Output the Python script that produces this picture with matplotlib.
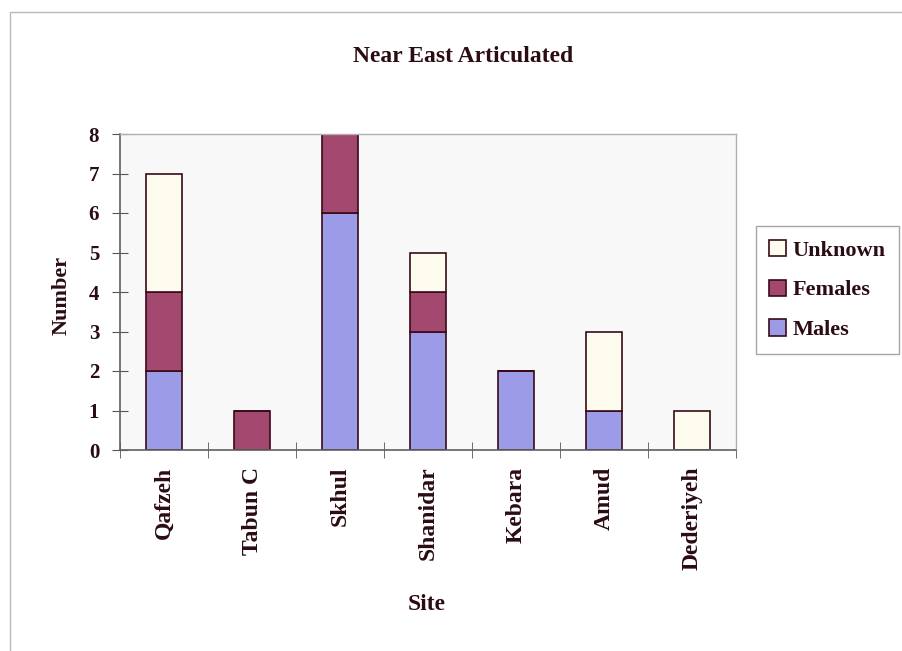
import matplotlib
matplotlib.use("Agg")
import matplotlib.pyplot as plt
from matplotlib.patches import Rectangle
import numpy as np

sites = ["Qafzeh", "Tabun C", "Skhul", "Shanidar", "Kebara", "Amud", "Dederiyeh"]
males = [2, 0, 6, 3, 2, 1, 0]
females = [2, 1, 2, 1, 0, 0, 0]
unknown = [3, 0, 0, 1, 0, 2, 1]
yticks = [0, 1, 2, 3, 4, 5, 6, 7, 8]

plt.rcParams['font.family'] = ['Liberation Serif', 'DejaVu Serif']
plt.rcParams['font.weight'] = 'bold'
tc = '#2a0c12'

fig = plt.figure(figsize=(9.02, 6.51), dpi=100)
fig.patch.set_facecolor('white')
# outer frame
fig.add_artist(Rectangle((10/902, -0.01), 1.0, 1 - 12/651 + 0.01, transform=fig.transFigure,
                         fill=False, edgecolor='#b8b8b8', linewidth=1.0))

ax = fig.add_axes([120/902, 1 - 450/651, 616/902, 316/651])
ax.set_facecolor('#f8f8f8')

x = np.arange(len(sites))
w = 0.41
ec = '#3a0a18'
males = np.array(males); females = np.array(females); unknown = np.array(unknown)
ax.bar(x, males, w, color='#9b9be8', edgecolor=ec, linewidth=1.2, label='Males')
ax.bar(x, females, w, bottom=males, color='#a3486e', edgecolor=ec, linewidth=1.2, label='Females')
ax.bar(x, unknown, w, bottom=males + females, color='#fefcee', edgecolor=ec, linewidth=1.2, label='Unknown')

ax.set_xlim(-0.5, len(sites) - 0.5)
ax.set_ylim(0, 8)
ax.set_yticks(yticks)
ax.set_yticklabels([str(v) for v in yticks], fontsize=15, fontweight='bold', color=tc)
ax.set_xticks(x)
ax.set_xticklabels(sites, rotation=90, fontsize=17, fontweight='bold', color=tc)
ax.tick_params(axis='x', which='major', length=0, pad=12)
ax.set_xticks(np.arange(-0.5, len(sites)), minor=True)
ax.tick_params(axis='x', which='minor', direction='inout', length=12, color='#555555')
ax.tick_params(axis='y', direction='inout', length=12, color='#555555', pad=9)

for s in ['top', 'right']:
    ax.spines[s].set_color('#b0b0b0')
    ax.spines[s].set_linewidth(1.0)
for s in ['left', 'bottom']:
    ax.spines[s].set_color('#606060')
    ax.spines[s].set_linewidth(1.2)

fig.text(463/902, 1 - 57/651, "Near East Articulated", ha='center', va='center',
         fontsize=17, fontweight='bold', color=tc)
fig.text(62/902, 1 - 295/651, "Number", ha='center', va='center', rotation=90,
         fontsize=16, fontweight='bold', color=tc)
fig.text(427/902, 1 - 605/651, "Site", ha='center', va='center',
         fontsize=17, fontweight='bold', color=tc)

handles, labels = ax.get_legend_handles_labels()
leg = fig.legend(handles[::-1], labels[::-1], loc='center left',
                 bbox_to_anchor=(756/902, 1 - 290/651), frameon=True, fancybox=False,
                 prop={'family': 'Liberation Serif', 'weight': 'bold', 'size': 16},
                 handlelength=0.75, handleheight=0.75, handletextpad=0.3,
                 labelspacing=0.85, borderpad=0.6, borderaxespad=0)
leg.get_frame().set_edgecolor('#909090')
leg.get_frame().set_linewidth(1.0)
for t in leg.get_texts():
    t.set_color(tc)

fig.savefig("out.png", dpi=100)
